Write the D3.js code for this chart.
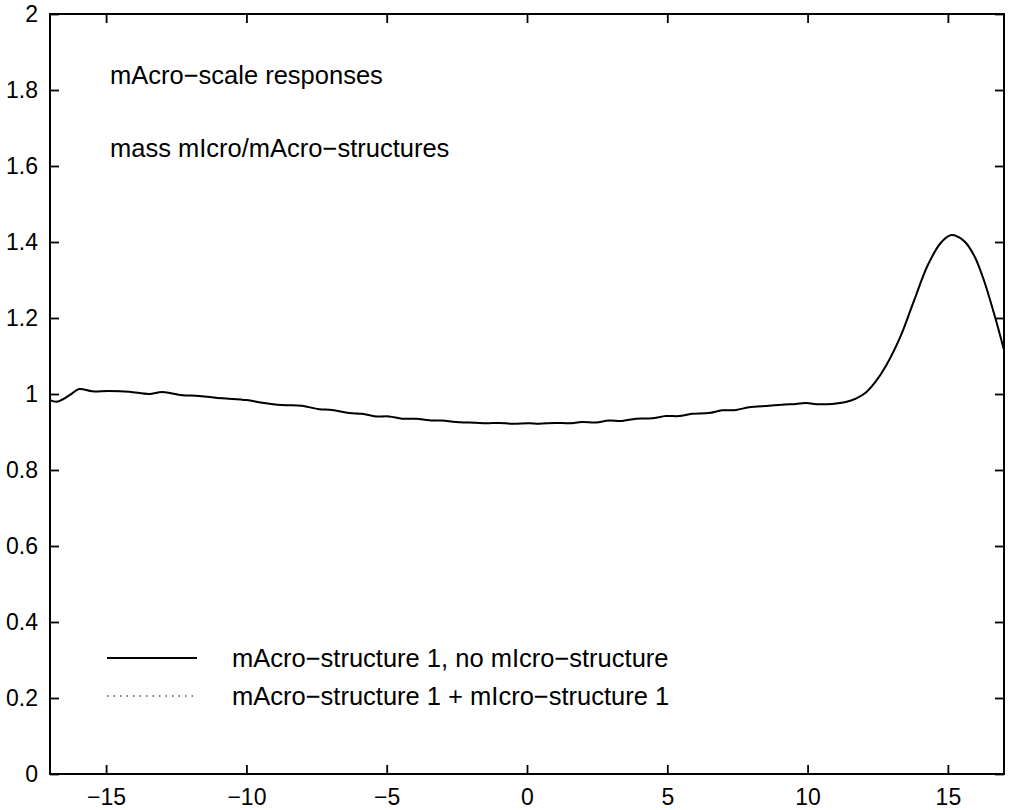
<!DOCTYPE html>
<html>
<head>
<meta charset="utf-8">
<script src="https://cdn.jsdelivr.net/npm/d3@7"></script>
<style>
  body { margin: 0; background: #fff; }
  text { font-family: "Liberation Sans", Arial, Helvetica, sans-serif; fill: #000; }
</style>
</head>
<body>
<svg id="chart"></svg>
<script>
// x positions
var xValues = [-17.0, -16.74, -16.3, -15.96, -15.5, -14.9, -14.18, -13.47, -13.0, -12.29,
  -11.69, -10.87, -10.0, -9.44, -8.73, -8.02, -7.41, -6.95, -6.34, -5.88, -5.38, -4.92,
  -4.45, -3.95, -3.49, -3.03, -2.53, -2.07, -1.46, -1.0, -0.53, 0.07, 0.43, 1.03, 1.5,
  1.96, 2.46, 2.92, 3.38, 3.88, 4.45, 4.95, 5.42, 5.88, 6.48, 6.95, 7.45, 7.91, 8.62,
  9.08, 9.58, 9.94, 10.4, 10.87, 11.36, 11.72, 12.08, 12.43, 12.8, 13.32, 13.79, 14.29,
  14.75, 15.1, 15.57, 15.93, 16.28, 16.64, 17.0];

// macro-structure 1, no micro-structure
var noMicro = [0.984, 0.980, 0.997, 1.013, 1.007, 1.008, 1.006, 1.000, 1.005, 0.997,
  0.995, 0.989, 0.984, 0.977, 0.971, 0.969, 0.960, 0.958, 0.950, 0.948, 0.941, 0.941,
  0.935, 0.935, 0.931, 0.930, 0.926, 0.925, 0.923, 0.924, 0.922, 0.923, 0.922, 0.924, 0.923,
  0.926, 0.925, 0.930, 0.929, 0.935, 0.936, 0.942, 0.942, 0.948, 0.950, 0.957, 0.958, 0.965, 0.969,
  0.972, 0.974, 0.976, 0.973, 0.974, 0.979, 0.988, 1.004, 1.033, 1.075, 1.153, 1.245, 1.340,
  1.398, 1.418, 1.403, 1.365, 1.300, 1.213, 1.116];

// macro-structure 1 + micro-structure 1 (lies under the solid curve)
var withMicro = noMicro.slice();

var xTicks = [-15, -10, -5, 0, 5, 10, 15];
var yTicks = [0, 0.2, 0.4, 0.6, 0.8, 1, 1.2, 1.4, 1.6, 1.8, 2];

var notes = ["mAcro\u2212scale responses", "mass mIcro/mAcro\u2212structures"];
var legendLabels = ["mAcro\u2212structure 1, no mIcro\u2212structure",
                    "mAcro\u2212structure 1 + mIcro\u2212structure 1"];

var screen = {width: 1009, height: 810};
var margins = {top: 14, bottom: 36, left: 50, right: 5};
var graph = {
  width: screen.width - margins.left - margins.right,
  height: screen.height - margins.top - margins.bottom
};

var svg = d3.select("#chart")
  .attr("width", screen.width)
  .attr("height", screen.height);

var xScale = d3.scaleLinear().domain([-17, 17]).range([0, graph.width]);
var yScale = d3.scaleLinear().domain([0, 2]).range([graph.height, 0]);

var g = svg.append("g")
  .attr("transform", "translate(" + margins.left + "," + margins.top + ")");

var fmt = function(d) { return (d < 0 ? "\u2212" : "") + Math.abs(d); };

// axes, ticks pointing inward like the matlab box
var tickLen = 9;
g.append("g")
  .attr("transform", "translate(0," + graph.height + ")")
  .call(d3.axisBottom(xScale).tickValues(xTicks).tickSize(-tickLen).tickPadding(15).tickFormat(fmt));
g.append("g")
  .call(d3.axisTop(xScale).tickValues(xTicks).tickSize(-tickLen).tickFormat(""));
g.append("g")
  .call(d3.axisLeft(yScale).tickValues(yTicks).tickSize(-tickLen).tickPadding(12).tickFormat(fmt));
g.append("g")
  .attr("transform", "translate(" + graph.width + ",0)")
  .call(d3.axisRight(yScale).tickValues(yTicks).tickSize(-tickLen).tickFormat(""));

g.selectAll(".domain").remove();
g.selectAll(".tick line").attr("stroke", "#000").attr("stroke-width", 1.8);
g.selectAll(".tick text")
  .style("font-size", "23px")
  .attr("fill", "#000");

// frame
g.append("rect")
  .attr("width", graph.width)
  .attr("height", graph.height)
  .attr("fill", "none")
  .attr("stroke", "#000")
  .attr("stroke-width", 2);

var line = d3.line()
  .x(function(d, i) { return xScale(xValues[i]); })
  .y(function(d) { return yScale(d); })
  .curve(d3.curveCatmullRom.alpha(0.5));

g.append("path")
  .datum(withMicro)
  .attr("d", line)
  .attr("fill", "none")
  .attr("stroke", "#000")
  .attr("stroke-width", 1.2)
  .attr("stroke-dasharray", "1.5,5");

g.append("path")
  .datum(noMicro)
  .attr("d", line)
  .attr("fill", "none")
  .attr("stroke", "#000")
  .attr("stroke-width", 2);

// annotations
svg.selectAll(".note")
  .data(notes)
  .enter()
  .append("text")
  .attr("class", "note")
  .attr("x", 110)
  .attr("y", function(d, i) { return 84 + i * 73; })
  .style("font-size", "25.5px")
  .text(function(d) { return d; });

// legend
var rows = svg.append("g")
  .selectAll("g")
  .data(legendLabels)
  .enter()
  .append("g")
  .attr("transform", function(d, i) { return "translate(0," + (658 + i * 38) + ")"; });

rows.append("line")
  .attr("x1", 107).attr("x2", 197)
  .attr("stroke", "#000")
  .attr("stroke-width", function(d, i) { return i === 0 ? 2 : 1.2; })
  .attr("stroke-dasharray", function(d, i) { return i === 0 ? null : "1.5,5"; });

rows.append("text")
  .attr("x", 232)
  .attr("y", 9)
  .style("font-size", "25.5px")
  .text(function(d) { return d; });
</script>
</body>
</html>
